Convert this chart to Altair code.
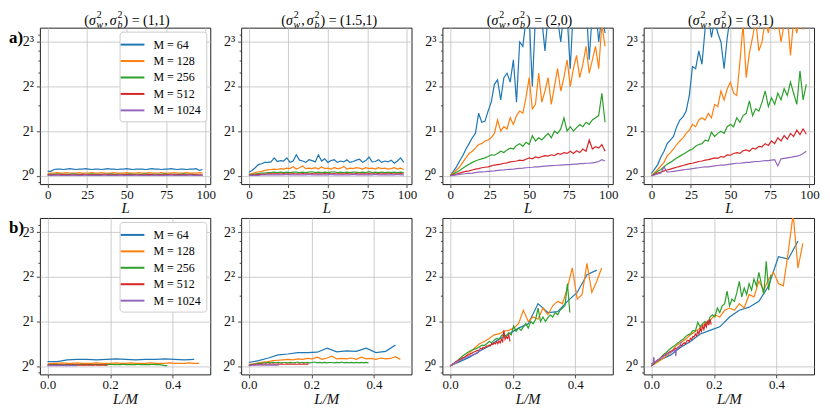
import altair as alt
import pandas as pd

# ---------------- data (values are log2 of the plotted quantity) ----------------
L_VALUES = [0, 2, 4, 6, 8, 10, 12, 14, 16, 18,
            20, 22, 24, 26, 28, 30, 32, 34, 36, 38,
            40, 42, 44, 46, 48, 50, 52, 54, 56, 58,
            60, 62, 64, 66, 68, 70, 72, 74, 76, 78,
            80, 82, 84, 86, 88, 90, 92, 94, 96, 98]
M_VALUES = [64, 128, 256, 512, 1024]
M_LABELS = ["M = 64", "M = 128", "M = 256", "M = 512", "M = 1024"]
COLORS = ["#1f77b4", "#ff7f0e", "#2ca02c", "#d62728", "#9467bd"]
PARAMS = ["(1,1)", "(1.5,1)", "(2,0)", "(3,1)"]
ROW_LABELS = ["a)", "b)"]
X_TICKS_TOP = [0, 25, 50, 75, 100]
X_TICKS_BOTTOM = [0.0, 0.2, 0.4]
Y_MAJOR = [0, 1, 2, 3]
Y_LABELS = ["2⁰", "2¹", "2²", "2³"]
Y_MINOR = [-0.152, 1.585, 2.322, 2.585, 2.807, 3.17]

# panel (1,1)
S11_64 = [0.10, 0.10, 0.14, 0.15, 0.15, 0.14, 0.15, 0.16, 0.15, 0.14,
          0.15, 0.15, 0.16, 0.15, 0.14, 0.15, 0.15, 0.14, 0.15, 0.16,
          0.15, 0.15, 0.14, 0.15, 0.15, 0.16, 0.15, 0.14, 0.15, 0.15,
          0.15, 0.14, 0.15, 0.16, 0.15, 0.15, 0.14, 0.15, 0.15, 0.16,
          0.15, 0.14, 0.15, 0.15, 0.14, 0.15, 0.15, 0.16, 0.12, 0.14]
S11_128 = [0.05, 0.06, 0.06, 0.07, 0.06, 0.06, 0.07, 0.06, 0.06, 0.06,
           0.07, 0.06, 0.06, 0.06, 0.07, 0.06, 0.06, 0.07, 0.06, 0.06,
           0.06, 0.07, 0.06, 0.06, 0.06, 0.07, 0.06, 0.06, 0.06, 0.07,
           0.06, 0.06, 0.07, 0.06, 0.06, 0.06, 0.07, 0.06, 0.06, 0.06,
           0.07, 0.06, 0.06, 0.06, 0.07, 0.06, 0.06, 0.06, 0.07, 0.06]
S11_256 = [0.03, 0.03, 0.03, 0.04, 0.03, 0.03, 0.03, 0.03, 0.04, 0.03,
           0.03, 0.03, 0.03, 0.03, 0.04, 0.03, 0.03, 0.03, 0.03, 0.03,
           0.04, 0.03, 0.03, 0.03, 0.03, 0.03, 0.04, 0.03, 0.03, 0.03,
           0.03, 0.04, 0.03, 0.03, 0.03, 0.03, 0.03, 0.04, 0.03, 0.03,
           0.03, 0.03, 0.03, 0.04, 0.03, 0.03, 0.03, 0.02, 0.01, 0.01]
S11_512 = [0.02, 0.02, 0.02, 0.02, 0.03, 0.02, 0.02, 0.02, 0.02, 0.02,
           0.02, 0.03, 0.02, 0.02, 0.02, 0.02, 0.02, 0.02, 0.03, 0.02,
           0.02, 0.02, 0.02, 0.02, 0.02, 0.03, 0.02, 0.02, 0.02, 0.02,
           0.02, 0.02, 0.03, 0.02, 0.02, 0.02, 0.02, 0.02, 0.02, 0.03,
           0.02, 0.02, 0.02, 0.02, 0.02, 0.03, 0.02, 0.02, 0.02, 0.02]
S11_1024 = [0.01, 0.01, 0.01, 0.02, 0.01, 0.01, 0.01, 0.01, 0.02, 0.01,
            0.01, 0.01, 0.02, 0.01, 0.01, 0.01, 0.01, 0.01, 0.02, 0.01,
            0.01, 0.01, 0.01, 0.02, 0.01, 0.01, 0.01, 0.01, 0.02, 0.01,
            0.01, 0.01, 0.01, 0.01, 0.02, 0.01, 0.01, 0.01, 0.01, 0.02,
            0.01, 0.01, 0.01, 0.01, 0.01, 0.02, 0.01, 0.01, 0.01, 0.01]

# panel (1.5,1)
S15_64 = [0.08, 0.12, 0.18, 0.25, 0.27, 0.30, 0.30, 0.31, 0.40, 0.32,
          0.34, 0.33, 0.40, 0.30, 0.33, 0.47, 0.35, 0.33, 0.30, 0.36,
          0.34, 0.31, 0.47, 0.33, 0.38, 0.30, 0.34, 0.36, 0.30, 0.33,
          0.31, 0.36, 0.30, 0.32, 0.35, 0.37, 0.30, 0.34, 0.42, 0.31,
          0.32, 0.36, 0.30, 0.33, 0.31, 0.35, 0.28, 0.33, 0.40, 0.30]
S15_128 = [0.03, 0.05, 0.07, 0.09, 0.10, 0.12, 0.13, 0.14, 0.15, 0.14,
           0.16, 0.15, 0.17, 0.16, 0.20, 0.15, 0.18, 0.22, 0.16, 0.17,
           0.16, 0.18, 0.15, 0.20, 0.16, 0.17, 0.15, 0.18, 0.16, 0.17,
           0.21, 0.15, 0.17, 0.16, 0.18, 0.17, 0.15, 0.18, 0.16, 0.17,
           0.15, 0.18, 0.16, 0.17, 0.15, 0.16, 0.18, 0.15, 0.17, 0.14]
S15_256 = [0.02, 0.03, 0.04, 0.05, 0.06, 0.06, 0.07, 0.07, 0.08, 0.07,
           0.08, 0.07, 0.08, 0.07, 0.08, 0.08, 0.07, 0.08, 0.07, 0.08,
           0.09, 0.07, 0.08, 0.07, 0.08, 0.07, 0.08, 0.09, 0.07, 0.08,
           0.07, 0.08, 0.07, 0.08, 0.08, 0.07, 0.08, 0.07, 0.09, 0.07,
           0.08, 0.07, 0.08, 0.07, 0.08, 0.07, 0.08, 0.07, 0.08, 0.07]
S15_512 = [0.01, 0.02, 0.02, 0.03, 0.03, 0.03, 0.04, 0.04, 0.04, 0.04,
           0.04, 0.05, 0.04, 0.04, 0.05, 0.04, 0.04, 0.05, 0.04, 0.04,
           0.05, 0.04, 0.04, 0.04, 0.05, 0.04, 0.04, 0.05, 0.04, 0.04,
           0.04, 0.05, 0.04, 0.04, 0.05, 0.04, 0.04, 0.04, 0.05, 0.04,
           0.04, 0.05, 0.04, 0.04, 0.04, 0.05, 0.04, 0.04, 0.05, 0.04]
S15_1024 = [0.01, 0.01, 0.01, 0.01, 0.02, 0.02, 0.02, 0.02, 0.02, 0.02,
            0.02, 0.02, 0.03, 0.02, 0.02, 0.02, 0.02, 0.02, 0.02, 0.03,
            0.02, 0.02, 0.02, 0.02, 0.02, 0.02, 0.03, 0.02, 0.02, 0.02,
            0.02, 0.02, 0.02, 0.03, 0.02, 0.02, 0.02, 0.02, 0.02, 0.02,
            0.03, 0.02, 0.02, 0.02, 0.02, 0.02, 0.02, 0.03, 0.02, 0.02]

# panel (2,0)
S20_64 = [0.00, 0.10, 0.20, 0.33, 0.45, 0.60, 0.72, 0.85, 0.95, 1.40,
          1.20, 1.22, 1.45, 1.65, 2.05, 2.15, 1.70, 2.20, 2.30, 2.10,
          2.60, 1.65, 3.00, 2.90, 3.50, 3.60, 2.00, 3.60, 3.70, 3.50,
          2.80, 3.60, 3.80, 3.60, 3.50, 3.00, 3.70, 3.60, 2.40, 3.80,
          3.70, 3.60, 3.50, 3.90, 2.60, 3.70, 3.80, 3.00, 3.60, 3.20]
S20_128 = [0.00, 0.06, 0.13, 0.20, 0.30, 0.40, 0.50, 0.55, 0.62, 0.70,
           0.72, 0.78, 0.80, 0.85, 0.95, 1.25, 1.00, 1.10, 1.05, 1.30,
           1.15, 1.35, 1.45, 1.40, 1.75, 2.20, 1.50, 1.60, 2.30, 1.65,
           1.90, 2.20, 1.60, 2.00, 2.40, 1.90, 2.20, 2.60, 2.00, 2.40,
           2.70, 2.20, 2.50, 2.90, 2.30, 2.60, 2.90, 2.40, 3.40, 2.90]
S20_256 = [0.00, 0.04, 0.08, 0.12, 0.17, 0.22, 0.26, 0.30, 0.33, 0.36,
           0.38, 0.40, 0.43, 0.47, 0.46, 0.50, 0.55, 0.52, 0.58, 0.62,
           0.60, 0.68, 0.72, 0.66, 0.75, 0.70, 0.90, 0.78, 0.85, 0.80,
           0.88, 0.95, 0.85, 1.00, 0.95, 1.05, 1.30, 1.00, 1.10, 1.00,
           1.08, 1.15, 1.10, 1.20, 1.15, 1.25, 1.30, 1.35, 1.85, 1.20]
S20_512 = [0.00, 0.02, 0.04, 0.06, 0.08, 0.10, 0.11, 0.13, 0.15, 0.16,
           0.18, 0.19, 0.20, 0.22, 0.24, 0.25, 0.26, 0.28, 0.29, 0.31,
           0.32, 0.33, 0.35, 0.34, 0.37, 0.40, 0.38, 0.42, 0.40, 0.43,
           0.45, 0.44, 0.47, 0.45, 0.50, 0.48, 0.52, 0.50, 0.55, 0.50,
           0.56, 0.52, 0.60, 0.55, 0.80, 0.60, 0.65, 0.62, 0.70, 0.55]
S20_1024 = [0.00, 0.01, 0.02, 0.03, 0.04, 0.05, 0.055, 0.06, 0.07, 0.08,
            0.085, 0.09, 0.10, 0.105, 0.11, 0.12, 0.125, 0.13, 0.14, 0.145,
            0.15, 0.16, 0.165, 0.17, 0.18, 0.185, 0.19, 0.20, 0.20, 0.21,
            0.215, 0.22, 0.225, 0.23, 0.235, 0.24, 0.245, 0.25, 0.25, 0.26,
            0.26, 0.27, 0.27, 0.28, 0.28, 0.29, 0.30, 0.32, 0.36, 0.33]

# panel (3,1)
S31_64 = [0.05, 0.15, 0.25, 0.42, 0.55, 0.72, 0.80, 0.88, 1.10, 1.25,
          1.32, 1.45, 1.80, 2.45, 2.40, 2.80, 2.50, 3.30, 3.60, 3.10,
          3.50, 3.20, 3.00, 2.40, 3.10, 3.60, 3.70, 3.80, 3.60, 3.90,
          3.70, 3.80, 3.60, 3.90, 3.80, 3.70, 3.90, 3.80, 3.60, 3.90,
          3.80, 3.70, 3.90, 3.60, 3.80, 3.90, 3.70, 3.80, 3.90, 3.80]
S31_128 = [0.00, 0.07, 0.14, 0.22, 0.30, 0.45, 0.52, 0.60, 0.70, 0.78,
           0.85, 0.95, 1.02, 1.15, 1.10, 1.25, 1.30, 1.25, 1.40, 1.30,
           1.60, 1.55, 1.90, 1.70, 1.95, 2.10, 1.85, 1.80, 2.55, 3.40,
           2.20, 2.75, 3.10, 3.50, 2.80, 3.00, 3.50, 3.20, 3.60, 3.30,
           3.50, 3.00, 3.40, 3.60, 2.70, 3.50, 3.20, 3.60, 3.30, 3.50]
S31_256 = [0.00, 0.05, 0.10, 0.14, 0.20, 0.26, 0.30, 0.35, 0.40, 0.44,
           0.48, 0.52, 0.57, 0.60, 0.66, 0.70, 0.72, 0.80, 0.78, 0.98,
           0.88, 0.95, 1.00, 0.95, 1.10, 1.15, 1.10, 1.30, 1.20, 1.35,
           1.40, 1.68, 1.35, 1.50, 1.45, 1.65, 1.90, 1.55, 1.75, 1.60,
           1.85, 1.70, 1.95, 1.80, 2.10, 1.85, 1.60, 2.35, 1.70, 2.05]
S31_512 = [0.00, 0.03, 0.06, 0.08, 0.11, 0.13, 0.15, 0.17, 0.19, 0.21,
           0.23, 0.25, 0.27, 0.28, 0.30, 0.32, 0.33, 0.35, 0.36, 0.38,
           0.40, 0.39, 0.43, 0.42, 0.47, 0.46, 0.50, 0.52, 0.50, 0.56,
           0.58, 0.55, 0.62, 0.60, 0.66, 0.65, 0.72, 0.68, 0.78, 0.72,
           0.85, 0.78, 0.90, 0.82, 0.95, 0.88, 1.02, 0.92, 1.05, 0.93]
S31_1024 = [0.00, 0.02, 0.04, 0.06, 0.20, 0.08, 0.09, 0.10, 0.11, 0.12,
            0.13, 0.14, 0.15, 0.16, 0.17, 0.18, 0.19, 0.20, 0.20, 0.21,
            0.22, 0.23, 0.24, 0.24, 0.25, 0.26, 0.27, 0.28, 0.28, 0.29,
            0.30, 0.30, 0.31, 0.32, 0.32, 0.33, 0.34, 0.34, 0.35, 0.36,
            0.22, 0.38, 0.39, 0.40, 0.41, 0.43, 0.44, 0.46, 0.50, 0.55]

PANELS = [
    [S11_64, S11_128, S11_256, S11_512, S11_1024],
    [S15_64, S15_128, S15_256, S15_512, S15_1024],
    [S20_64, S20_128, S20_256, S20_512, S20_1024],
    [S31_64, S31_128, S31_256, S31_512, S31_1024],
]

rows = []
for p, series in enumerate(PANELS):
    for m, lab, vals in zip(M_VALUES, M_LABELS, series):
        for l, v in zip(L_VALUES, vals):
            rows.append({"panel": p, "label": lab, "L": l, "LM": l / m, "e": v})
df = pd.DataFrame(rows)

SERIF = "Liberation Serif"
W, H = 171, 157
color_scale = alt.Scale(domain=M_LABELS, range=COLORS)
major_test = "indexof([0,1,2,3], datum.value) >= 0"
label_expr = " : ".join(
    [f"datum.value == {v} ? '{t}'" for v, t in zip(Y_MAJOR, Y_LABELS)]) + " : ''"

y_enc = alt.Y(
    "e:Q",
    scale=alt.Scale(domain=[-0.187, 3.32], nice=False, zero=False),
    axis=alt.Axis(
        values=Y_MAJOR + Y_MINOR, labelExpr=label_expr, title=None,
        tickSize={"condition": {"test": major_test, "value": 3.5}, "value": 2},
        gridOpacity={"condition": {"test": major_test, "value": 1}, "value": 0},
        labelFontSize=14, labelPadding=3,
    ),
)

legend_def = alt.Legend(
    orient="top-right", offset=4, padding=5, title=None,
    fillColor="white", strokeColor="#cccccc", cornerRadius=3,
    symbolType="M-1.7,0H1.7", symbolSize=196, symbolStrokeWidth=2,
    labelFont=SERIF, labelFontSize=12, labelOffset=13, rowPadding=2.5,
)


def text_piece(txt, dx, dy, size, style="normal", weight="normal"):
    return alt.Chart(pd.DataFrame({"t": [txt]})).mark_text(
        font=SERIF, fontSize=size, fontStyle=style, fontWeight=weight,
        align="left", baseline="alphabetic", color="black"
    ).encode(text="t:N", x=alt.value(dx), y=alt.value(dy))


def title_layers(param):
    # "(σ²_w, σ²_b) = param" built from pieces with super/subscripts
    tail = ") = " + param
    tail_w = 4.7 + 3.5 + 7.9 + 3.5 + 3.5 * (len(param) - 2) + 4.7 * 2 + 1.5 * sum(c.isdigit() for c in param)
    total = 39.5 + tail_w
    x0 = W / 2 - total / 2
    base = -3
    return [
        text_piece("(", x0, base, 14),
        text_piece("σ", x0 + 4.7, base, 14, "italic"),
        text_piece("2", x0 + 12.6, base - 7, 10),
        text_piece("w", x0 + 12.4, base + 3.5, 10, "italic"),
        text_piece(",", x0 + 20.1, base, 14),
        text_piece("σ", x0 + 25.6, base, 14, "italic"),
        text_piece("2", x0 + 33.5, base - 7, 10),
        text_piece("b", x0 + 33.3, base + 3.5, 10, "italic"),
        text_piece(tail, x0 + 39.5, base, 14),
    ]


def make_panel(p, row):
    d = df[df.panel == p]
    if row == 0:
        xfield, xdom, xticks, xtitle, fmt = "L", [-4.9, 102.9], X_TICKS_TOP, "L", "d"
    else:
        d = d[d.LM < 0.5]
        xfield, xdom, xticks, xtitle, fmt = "LM", [-0.0245, 0.52], X_TICKS_BOTTOM, "L/M", ".1f"
    x_enc = alt.X(
        f"{xfield}:Q",
        scale=alt.Scale(domain=xdom, nice=False, zero=False),
        axis=alt.Axis(values=xticks, format=fmt, title=xtitle, labelFontSize=13,
                      tickSize=3.5, labelPadding=1,
                      titleFontStyle="italic", titleFontSize=15,
                      titleY=29, titleBaseline="alphabetic",
                      titleFontWeight="normal", labelFlush=False),
    )
    layers = []
    for lab in M_LABELS:
        layers.append(
            alt.Chart(d[d.label == lab]).mark_line(clip=True, strokeWidth=1.2).encode(
                x=x_enc, y=y_enc,
                color=alt.Color("label:N", scale=color_scale,
                                legend=legend_def if p == 0 else None),
            )
        )
    if p == 0:
        layers.append(text_piece(ROW_LABELS[row], -31, 15, 17, weight="bold"))
    if row == 0:
        layers += title_layers(PARAMS[p])
    return alt.layer(*layers).properties(width=W, height=H)


top = alt.hconcat(*[make_panel(p, 0) for p in range(4)], spacing=31, bounds="flush").resolve_legend(color="independent")
bottom = alt.hconcat(*[make_panel(p, 1) for p in range(4)], spacing=31, bounds="flush").resolve_legend(color="independent")

chart = alt.vconcat(top, bottom, spacing=0).resolve_legend(
    color="independent"
).properties(padding={"left": 0, "top": 0, "right": 2, "bottom": 2}).configure(
    font=SERIF
).configure_view(
    stroke="#222222", strokeWidth=1
).configure_axis(
    domain=False, gridColor="#c0c0c0", gridWidth=0.8, tickColor="#222222",
    tickWidth=0.8, labelFont=SERIF, titleFont=SERIF, labelColor="#111111",
    titleColor="#111111"
)

chart.save("out.html", embed_options={"renderer": "svg", "actions": False})
